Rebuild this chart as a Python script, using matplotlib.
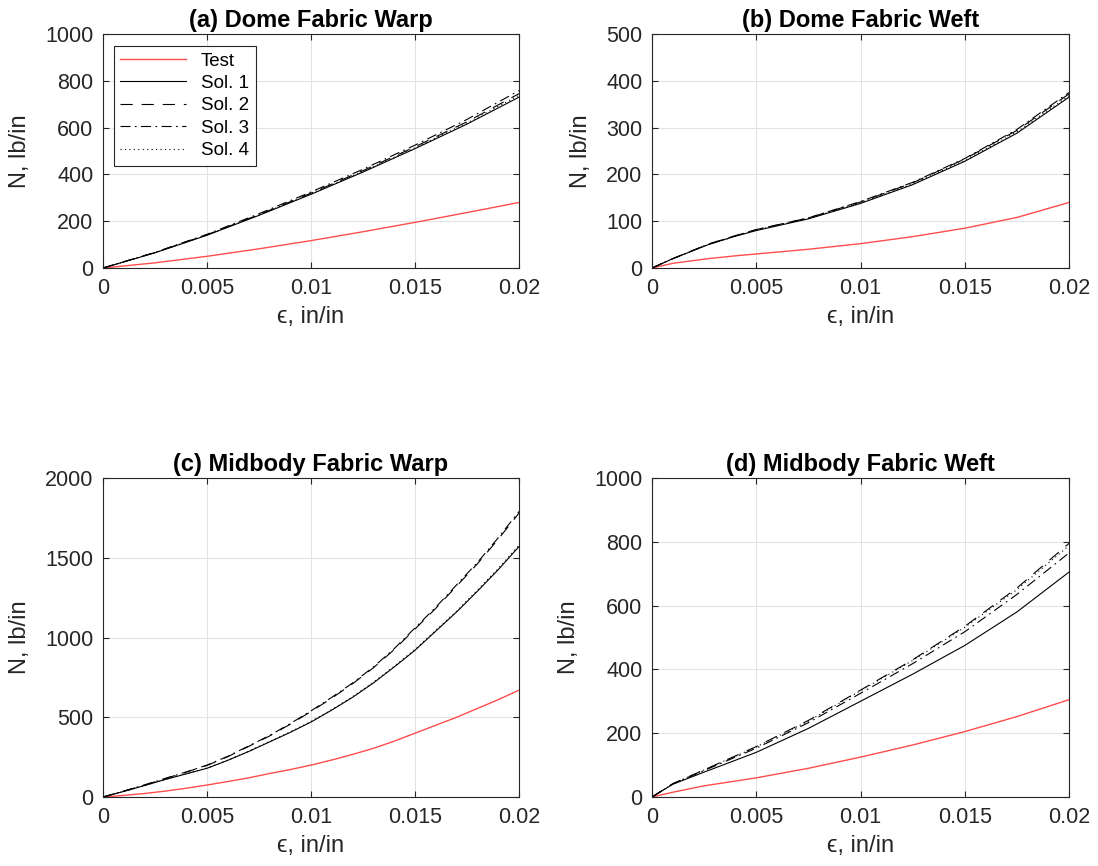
import numpy as np
import matplotlib
matplotlib.use("Agg")
import matplotlib.pyplot as plt

plt.rcParams['font.family'] = ['Liberation Sans', 'DejaVu Sans']

# (a) Dome Fabric Warp
xa = [0, 0.0025, 0.005, 0.0075, 0.01, 0.0125, 0.015, 0.0175, 0.02]
a_test = [0, 22, 50, 82, 117, 155, 195, 237, 280]
a_sol1 = [0, 65, 140, 225, 315, 410, 510, 615, 730]
a_sol2 = [0, 66, 142, 228, 320, 416, 518, 625, 745]
a_sol3 = [0, 67, 144, 232, 325, 422, 525, 635, 758]
a_sol4 = [0, 66, 141, 227, 318, 413, 514, 620, 738]

# (b) Dome Fabric Weft
xb = [0, 0.001, 0.0027, 0.004, 0.005, 0.0075, 0.01, 0.0125, 0.015, 0.0175, 0.02]
b_test = [0, 10, 20, 26, 30, 40, 52, 67, 85, 108, 140]
b_sol1 = [0, 20, 50, 68, 80, 105, 138, 178, 228, 288, 365]
b_sol2 = [0, 20, 51, 69, 82, 107, 141, 182, 233, 294, 372]
b_sol3 = [0, 20, 51, 69, 82, 107, 142, 183, 234, 296, 375]
b_sol4 = [0, 20, 50, 68, 81, 106, 139, 180, 230, 291, 368]

# (c) Midbody Fabric Warp
xc = [0, 0.001, 0.002, 0.003, 0.004, 0.005, 0.006, 0.007, 0.008, 0.009, 0.01,
      0.011, 0.012, 0.013, 0.014, 0.015, 0.016, 0.017, 0.018, 0.019, 0.02]
c_test = [0, 10, 22, 37, 55, 75, 97, 120, 147, 172, 200,
          232, 267, 305, 350, 400, 450, 500, 555, 610, 670]
c_sol1 = [0, 35, 72, 110, 145, 180, 230, 285, 345, 405, 470,
          545, 625, 715, 815, 920, 1040, 1160, 1290, 1425, 1570]
c_sol2 = [0, 37, 75, 116, 156, 198, 253, 317, 382, 456, 536,
          620, 710, 810, 924, 1053, 1183, 1322, 1462, 1616, 1780]
c_sol3 = [0, 37, 76, 117, 157, 200, 255, 320, 385, 460, 540,
          625, 715, 815, 930, 1060, 1190, 1330, 1470, 1625, 1790]
c_sol4 = [0, 35, 72, 110, 146, 181, 231, 287, 347, 408, 473,
          548, 629, 719, 820, 925, 1046, 1166, 1297, 1432, 1578]

# (d) Midbody Fabric Weft
xd = [0, 0.001, 0.0025, 0.005, 0.0075, 0.01, 0.0125, 0.015, 0.0175, 0.02]
d_test = [0, 15, 35, 60, 90, 125, 163, 205, 252, 305]
d_sol1 = [0, 40, 78, 140, 215, 300, 385, 475, 580, 705]
d_sol2 = [0, 42, 85, 158, 240, 335, 430, 535, 655, 795]
d_sol3 = [0, 41, 83, 153, 233, 325, 418, 518, 635, 765]
d_sol4 = [0, 42, 85, 157, 238, 333, 428, 532, 650, 788]

titles = ['(a) Dome Fabric Warp', '(b) Dome Fabric Weft',
          '(c) Midbody Fabric Warp', '(d) Midbody Fabric Weft']
ymaxs = [1000, 500, 2000, 1000]
yticks = [[0, 200, 400, 600, 800, 1000], [0, 100, 200, 300, 400, 500],
          [0, 500, 1000, 1500, 2000], [0, 200, 400, 600, 800, 1000]]
xticks = [0, 0.005, 0.01, 0.015, 0.02]
xticklabels = ['0', '0.005', '0.01', '0.015', '0.02']

panels = [(xa, a_test, a_sol1, a_sol2, a_sol3, a_sol4),
          (xb, b_test, b_sol1, b_sol2, b_sol3, b_sol4),
          (xc, c_test, c_sol1, c_sol2, c_sol3, c_sol4),
          (xd, d_test, d_sol1, d_sol2, d_sol3, d_sol4)]

# axes boxes in pixels (left, top, right, bottom) of a 1098x866 figure
W, H = 1098.0, 866.0
boxes = [(103, 34, 519, 268), (652, 34, 1069, 268),
         (103, 478, 519, 797), (652, 478, 1069, 797)]

fig = plt.figure(figsize=(10.98, 8.66), dpi=100)
axc = '#262626'

for i in range(4):
    l, t, r, b = boxes[i]
    ax = fig.add_axes([l / W, 1 - b / H, (r - l) / W, (b - t) / H])
    x, tst, s1, s2, s3, s4 = panels[i]
    ax.plot(x, tst, color='#ff4d4d', lw=1.0, label='Test')
    ax.plot(x, s1, color='k', lw=0.8, ls='-', label='Sol. 1')
    ax.plot(x, s2, color='k', lw=0.8, ls=(0, (11, 8)), label='Sol. 2')
    ax.plot(x, s3, color='k', lw=0.8, ls=(0, (9, 4, 1.5, 4)), label='Sol. 3')
    ax.plot(x, s4, color='k', lw=0.8, ls=(0, (1, 3)), label='Sol. 4')
    ax.set_xlim(0, 0.02)
    ax.set_ylim(0, ymaxs[i])
    ax.set_xticks(xticks)
    ax.set_xticklabels(xticklabels)
    ax.set_yticks(yticks[i])
    ax.grid(True, color='#e3e3e3', lw=0.8)
    ax.set_axisbelow(True)
    ax.tick_params(direction='in', length=4, labelsize=15.5, colors=axc,
                   top=True, right=True, pad=7)
    for sp in ax.spines.values():
        sp.set_color(axc)
        sp.set_linewidth(0.8)
    ax.set_title(titles[i], fontsize=17, fontweight='bold', pad=5)
    ax.set_xlabel('\u03f5, in/in', fontsize=17, color=axc, labelpad=5)
    ax.set_ylabel('N, lb/in', fontsize=17, color=axc, labelpad=10)
    if i == 0:
        leg = ax.legend(loc='upper left', fontsize=13.5, fancybox=False,
                        framealpha=1, edgecolor=axc, handlelength=3.5,
                        labelspacing=0.28, borderpad=0.35, borderaxespad=0,
                        bbox_to_anchor=(0.026, 0.949))
        leg.get_frame().set_linewidth(0.8)

fig.savefig('out.png', dpi=100)
